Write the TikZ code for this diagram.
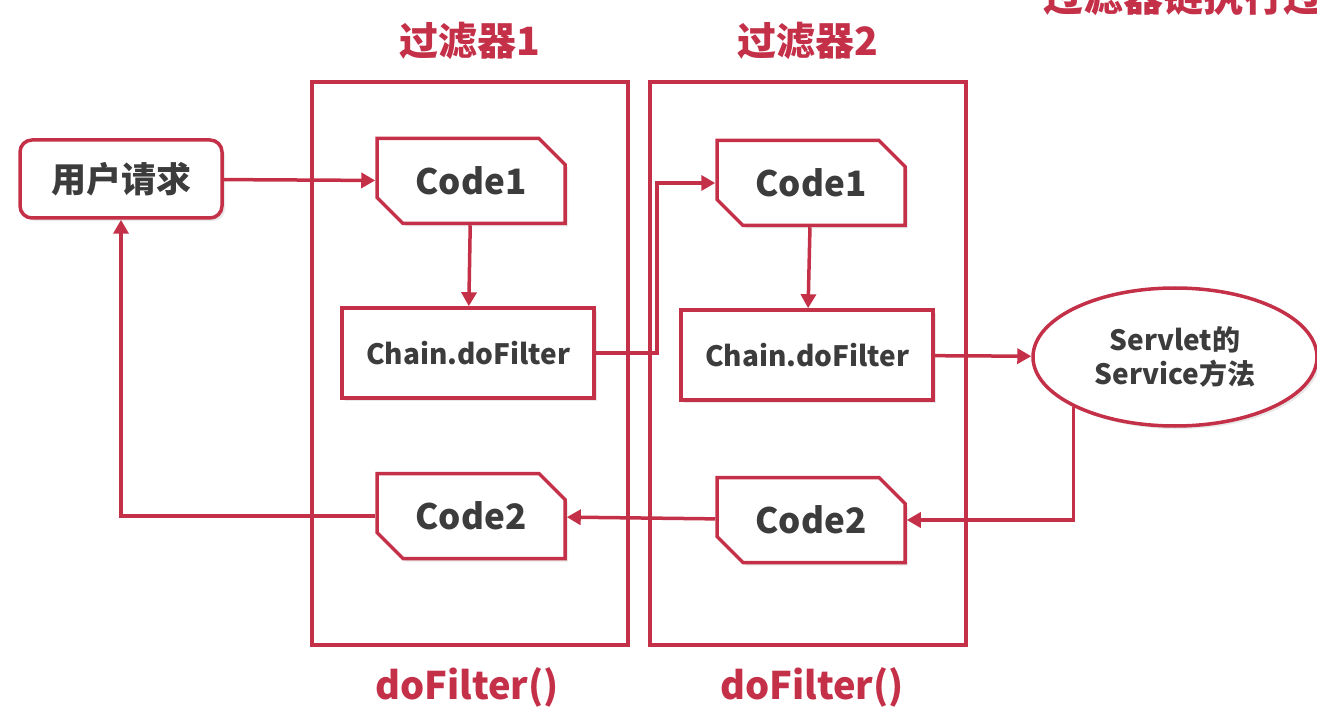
\documentclass[tikz,border=0pt]{standalone}
\usepackage{fontspec}
\setmainfont{Noto Sans CJK SC}
\usetikzlibrary{shapes.misc,shapes.geometric,arrows.meta,shadows}
\definecolor{filterRed}{RGB}{196,48,72}
\definecolor{textGray}{RGB}{60,60,60}

\begin{document}
\begin{tikzpicture}[x=1pt, y=-1pt,
  every node/.style={text=textGray, font=\bfseries},
  boxshadow/.style={drop shadow={opacity=0.18, shadow xshift=3pt, shadow yshift=-3pt}},
  codebox/.style={draw=filterRed, line width=3.5pt, fill=white, boxshadow,
    chamfered rectangle, chamfered rectangle corners={north east,south west},
    chamfered rectangle xsep=13pt, chamfered rectangle ysep=13pt,
    minimum width=188pt, minimum height=85pt, inner sep=0pt,
    font=\fontsize{35}{38}\selectfont\bfseries},
  callbox/.style={draw=filterRed, line width=3.5pt, fill=white, boxshadow,
    minimum width=252pt, minimum height=90pt, inner sep=0pt,
    font=\fontsize{28}{32}\selectfont\bfseries},
  frame/.style={draw=filterRed, line width=3.5pt, minimum width=316pt, minimum height=563pt},
  heading/.style={text=filterRed, font=\fontsize{39}{42}\selectfont\bfseries},
  flow/.style={draw=filterRed, line width=3.5pt, -{Triangle[length=14pt,width=15pt]}}]
  \useasboundingbox (0,0) rectangle (1317,708);
  % Title (cut off)
  \node[heading, anchor=west, font=\fontsize{40}{42}\selectfont\bfseries] (title) at (1040,-4) {过滤器链执行过程};
  % Filter frames
  \node[frame] (frame1) at (470,363.5) {};
  \node[frame] (frame2) at (808,363.5) {};
  \node[heading] (name1) at (470,41) {过滤器1};
  \node[heading] (name2) at (808,41) {过滤器2};
  \node[heading, font=\fontsize{38}{42}\selectfont\bfseries] (do1) at (467,687) {doFilter()};
  \node[heading, font=\fontsize{38}{42}\selectfont\bfseries] (do2) at (812,687) {doFilter()};
  % Request
  \node[draw=filterRed, line width=3.5pt, fill=white, rounded corners=12pt, boxshadow,
    minimum width=202pt, minimum height=78pt, font=\fontsize{35}{38}\selectfont\bfseries] (user) at (121,179) {用户请求};
  % Filter 1
  \node[codebox] (code1a) at (471,181) {Code1};
  \node[callbox] (chain1) at (468,353) {Chain.doFilter};
  \node[codebox] (code2a) at (471,516) {Code2};
  % Filter 2
  \node[codebox] (code1b) at (811,183) {Code1};
  \node[callbox] (chain2) at (807,355) {Chain.doFilter};
  \node[codebox] (code2b) at (811,520) {Code2};
  % Servlet
  \node[ellipse, draw=filterRed, line width=3.5pt, fill=white, boxshadow, minimum width=284pt, minimum height=138pt,
    align=center, inner sep=0pt, font=\fontsize{28}{34}\selectfont\bfseries] (servlet) at (1175,357) {Servlet的\\Service方法};
  % Arrows
  \draw[flow] (user) -- (code1a);
  \draw[flow] (code1a) -- (chain1);
  \draw[flow] (chain1.east) -- ++(61,0) |- (code1b.west);
  \draw[flow] (code1b) -- (chain2);
  \draw[flow] (chain2) -- (servlet);
  \draw[flow] (servlet.south west) |- (code2b.east);
  \draw[flow] (code2b) -- (code2a);
  \draw[flow] (code2a.west) -| (user.south);
\end{tikzpicture}
\end{document}
